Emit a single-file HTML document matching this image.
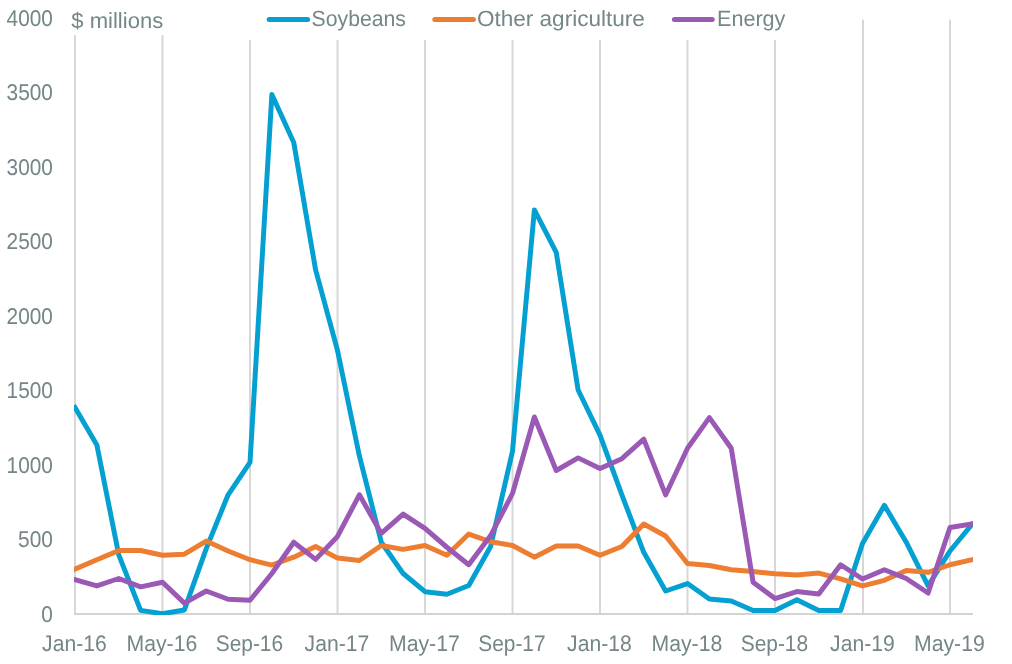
<!DOCTYPE html>
<html lang="en"><head><meta charset="utf-8"><title>Chart</title>
<style>html,body{margin:0;padding:0;background:#fff}svg{display:block}text{font-family:"Liberation Sans",sans-serif;fill:#748688;text-rendering:geometricPrecision}.y{font-size:22.8px}.x{font-size:22.4px}.l{font-size:22px}</style></head><body>
<svg width="1012" height="664" viewBox="0 0 1012 664">
<defs><clipPath id="plot"><rect x="74" y="0" width="898.9" height="614.9"/></clipPath></defs>
<rect width="1012" height="664" fill="#fff"/>
<line x1="75.00" y1="35" x2="75.00" y2="614" stroke="#d7d7d7" stroke-width="2"/>
<line x1="162.50" y1="35" x2="162.50" y2="614" stroke="#d7d7d7" stroke-width="2"/>
<line x1="250.00" y1="40" x2="250.00" y2="614" stroke="#d7d7d7" stroke-width="2"/>
<line x1="337.50" y1="40" x2="337.50" y2="614" stroke="#d7d7d7" stroke-width="2"/>
<line x1="425.00" y1="40" x2="425.00" y2="614" stroke="#d7d7d7" stroke-width="2"/>
<line x1="512.50" y1="40" x2="512.50" y2="614" stroke="#d7d7d7" stroke-width="2"/>
<line x1="600.00" y1="40" x2="600.00" y2="614" stroke="#d7d7d7" stroke-width="2"/>
<line x1="687.50" y1="40" x2="687.50" y2="614" stroke="#d7d7d7" stroke-width="2"/>
<line x1="775.00" y1="40" x2="775.00" y2="614" stroke="#d7d7d7" stroke-width="2"/>
<line x1="863.00" y1="19.7" x2="863.00" y2="614" stroke="#d7d7d7" stroke-width="2"/>
<line x1="950.00" y1="19.7" x2="950.00" y2="614" stroke="#d7d7d7" stroke-width="2"/>
<line x1="74" y1="613.9" x2="972.9" y2="613.9" stroke="#d3d3d3" stroke-width="2"/>
<g clip-path="url(#plot)" fill="none" stroke-width="4.95" stroke-linejoin="round" stroke-linecap="square">
<polyline points="75.00,407.50 96.88,445.00 118.75,554.81 140.62,610.39 162.50,613.80 184.38,609.94 206.25,548.59 228.12,494.79 250.00,462.34 271.88,94.50 293.75,142.52 315.62,269.97 337.50,350.44 359.38,455.96 381.25,542.22 403.12,573.49 425.00,591.71 446.88,594.23 468.75,585.49 490.62,546.51 512.50,451.22 534.38,209.95 556.25,252.48 578.12,390.01 600.00,435.07 621.88,494.94 643.75,552.29 665.62,590.97 687.50,583.56 709.38,598.98 731.25,601.05 753.12,610.54 775.00,610.54 796.88,599.72 818.75,610.54 840.62,610.54 862.50,543.55 884.38,505.31 906.25,542.22 928.12,585.93 950.00,550.96 971.88,524.58" stroke="#04a0d1"/>
<polyline points="75.00,569.04 96.88,559.70 118.75,550.51 140.62,550.51 162.50,555.26 184.38,554.22 206.25,541.03 228.12,550.96 250.00,559.70 271.88,565.04 293.75,557.18 315.62,546.51 337.50,558.07 359.38,560.44 381.25,545.48 403.12,549.33 425.00,545.48 446.88,555.26 468.75,534.06 490.62,541.77 512.50,545.48 534.38,557.18 556.25,546.07 578.12,546.07 600.00,555.26 621.88,546.51 643.75,523.99 665.62,535.99 687.50,563.56 709.38,565.48 731.25,569.78 753.12,571.56 775.00,573.78 796.88,574.97 818.75,573.04 840.62,578.97 862.50,585.93 884.38,580.30 906.25,570.52 928.12,572.30 950.00,564.74 971.88,559.70" stroke="#ed7d31"/>
<polyline points="75.00,579.71 96.88,585.93 118.75,578.52 140.62,586.82 162.50,582.23 184.38,603.13 206.25,590.97 228.12,599.27 250.00,600.31 271.88,573.49 293.75,542.22 315.62,559.41 337.50,536.44 359.38,494.79 381.25,533.47 403.12,514.06 425.00,528.43 446.88,547.25 468.75,564.74 490.62,535.55 512.50,493.46 534.38,416.99 556.25,470.49 578.12,457.89 600.00,468.56 621.88,458.63 643.75,439.07 665.62,494.94 687.50,448.26 709.38,417.58 731.25,448.26 753.12,582.23 775.00,598.53 796.88,591.57 818.75,593.94 840.62,564.74 862.50,578.97 884.38,569.78 906.25,578.52 928.12,593.05 950.00,527.54 971.88,523.84" stroke="#9b59b6"/>
</g>
<text class="y" x="41.30" y="621.50" textLength="11.6" lengthAdjust="spacingAndGlyphs">0</text>
<text class="y" x="18.00" y="547.06" textLength="34.9" lengthAdjust="spacingAndGlyphs">500</text>
<text class="y" x="6.60" y="472.62" textLength="46.3" lengthAdjust="spacingAndGlyphs">1000</text>
<text class="y" x="6.60" y="398.18" textLength="46.3" lengthAdjust="spacingAndGlyphs">1500</text>
<text class="y" x="6.60" y="323.74" textLength="46.3" lengthAdjust="spacingAndGlyphs">2000</text>
<text class="y" x="6.60" y="249.30" textLength="46.3" lengthAdjust="spacingAndGlyphs">2500</text>
<text class="y" x="6.60" y="174.86" textLength="46.3" lengthAdjust="spacingAndGlyphs">3000</text>
<text class="y" x="6.60" y="100.42" textLength="46.3" lengthAdjust="spacingAndGlyphs">3500</text>
<text class="y" x="6.60" y="25.98" textLength="46.3" lengthAdjust="spacingAndGlyphs">4000</text>
<text class="x" x="42.10" y="650.7" textLength="64.6" lengthAdjust="spacingAndGlyphs">Jan-16</text>
<text class="x" x="126.50" y="650.7" textLength="70.8" lengthAdjust="spacingAndGlyphs">May-16</text>
<text class="x" x="215.70" y="650.7" textLength="67.4" lengthAdjust="spacingAndGlyphs">Sep-16</text>
<text class="x" x="304.60" y="650.7" textLength="64.6" lengthAdjust="spacingAndGlyphs">Jan-17</text>
<text class="x" x="389.00" y="650.7" textLength="70.8" lengthAdjust="spacingAndGlyphs">May-17</text>
<text class="x" x="478.20" y="650.7" textLength="67.4" lengthAdjust="spacingAndGlyphs">Sep-17</text>
<text class="x" x="567.10" y="650.7" textLength="64.6" lengthAdjust="spacingAndGlyphs">Jan-18</text>
<text class="x" x="651.50" y="650.7" textLength="70.8" lengthAdjust="spacingAndGlyphs">May-18</text>
<text class="x" x="740.70" y="650.7" textLength="67.4" lengthAdjust="spacingAndGlyphs">Sep-18</text>
<text class="x" x="830.10" y="650.7" textLength="64.6" lengthAdjust="spacingAndGlyphs">Jan-19</text>
<text class="x" x="914.00" y="650.7" textLength="70.8" lengthAdjust="spacingAndGlyphs">May-19</text>
<text class="l" x="71.3" y="27.9" textLength="91.9" lengthAdjust="spacingAndGlyphs">$ millions</text>
<line x1="269.2" y1="19.5" x2="307.6" y2="19.5" stroke="#04a0d1" stroke-width="5" stroke-linecap="round"/>
<text class="l" x="311.6" y="25.9" textLength="94.4" lengthAdjust="spacingAndGlyphs">Soybeans</text>
<line x1="434.8" y1="19.5" x2="473.4" y2="19.5" stroke="#ed7d31" stroke-width="5" stroke-linecap="round"/>
<text class="l" x="476.9" y="25.9" textLength="168" lengthAdjust="spacingAndGlyphs">Other agriculture</text>
<line x1="674.4" y1="19.5" x2="712.2" y2="19.5" stroke="#9b59b6" stroke-width="5" stroke-linecap="round"/>
<text class="l" x="717.0" y="25.9" textLength="68.4" lengthAdjust="spacingAndGlyphs">Energy</text>
</svg></body></html>
